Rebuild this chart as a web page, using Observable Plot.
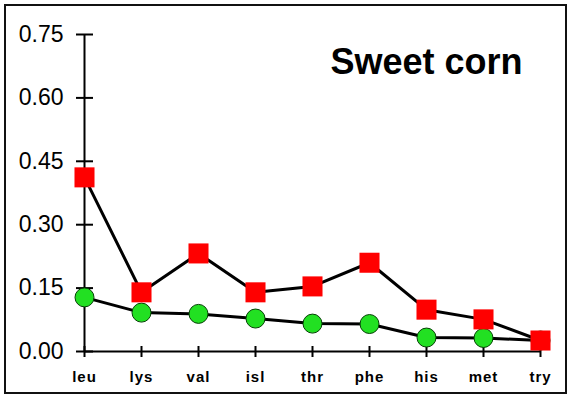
<!DOCTYPE html>
<html>
<head>
<meta charset="utf-8">
<script src="https://cdn.jsdelivr.net/npm/d3@7"></script>
<script src="https://cdn.jsdelivr.net/npm/@observablehq/plot@0.6"></script>
<style>
  html, body { margin: 0; padding: 0; background: #fff; }
  #wrap { position: relative; width: 571px; height: 398px; }
  #border { position: absolute; left: 4px; top: 4px; width: 563px; height: 390px; box-sizing: border-box; border: 2px solid #111; pointer-events: none; }
  #wrap svg { position: absolute; left: 0; top: 0; }
  g[aria-label="x-axis tick label"] text { letter-spacing: 1px; }
</style>
</head>
<body>
<div id="wrap"><div id="border"></div></div>
<script>
const aminoAcids = ["leu", "lys", "val", "isl", "thr", "phe", "his", "met", "try"];
const redValues = [0.412, 0.140, 0.232, 0.140, 0.154, 0.210, 0.099, 0.076, 0.026];
const greenValues = [0.128, 0.092, 0.089, 0.078, 0.066, 0.065, 0.033, 0.032, 0.026];
const yTicks = [0, 0.15, 0.30, 0.45, 0.60, 0.75];
const titleText = "Sweet corn";

const rows = aminoAcids.map((a, i) => ({acid: a, red: redValues[i], green: greenValues[i]}));

const chart = Plot.plot({
  width: 571,
  height: 398,
  marginLeft: 84,
  marginRight: 31,
  marginTop: 34,
  marginBottom: 47,
  style: {background: "transparent", fontFamily: "'Liberation Sans', Arial, sans-serif", color: "#000"},
  x: {type: "point", domain: aminoAcids, padding: 0},
  y: {domain: [0, 0.75]},
  marks: [
    Plot.ruleX([aminoAcids[0]], {x: d => d, y1: 0, y2: 0.75, stroke: "#000", strokeWidth: 2}),
    Plot.ruleY([0], {y: d => d, x1: () => aminoAcids[0], x2: () => aminoAcids[aminoAcids.length - 1], stroke: "#000", strokeWidth: 2}),
    Plot.axisY(yTicks, {tickSize: 17, dx: 9, tickFormat: () => "", strokeWidth: 2, label: null}),
    Plot.axisY(yTicks, {tickSize: 0, tickPadding: 21, tickFormat: d => d.toFixed(2), fontSize: 23, label: null}),
    Plot.axisX({tickSize: 11, dy: -5, tickFormat: () => "", strokeWidth: 2, label: null}),
    Plot.axisX({tickSize: 0, tickPadding: 20, fontSize: 15, fontWeight: "bold", label: null}),
    Plot.line(rows, {x: "acid", y: "green", stroke: "#000", strokeWidth: 3}),
    Plot.line(rows, {x: "acid", y: "red", stroke: "#000", strokeWidth: 3}),
    Plot.dot(rows, {x: "acid", y: "green", r: 9.5, fill: "#22e022", stroke: "#064006", strokeWidth: 1}),
    Plot.dot(rows, {x: "acid", y: "red", symbol: "square", r: 11.3, fill: "#ff0000"}),
    Plot.text([titleText], {text: d => d, frameAnchor: "top-right", textAnchor: "end", lineAnchor: "top", dx: -18, dy: 14, fontSize: 36, fontWeight: "bold", fill: "#000"})
  ]
});
document.getElementById("wrap").appendChild(chart);
</script>
</body>
</html>
